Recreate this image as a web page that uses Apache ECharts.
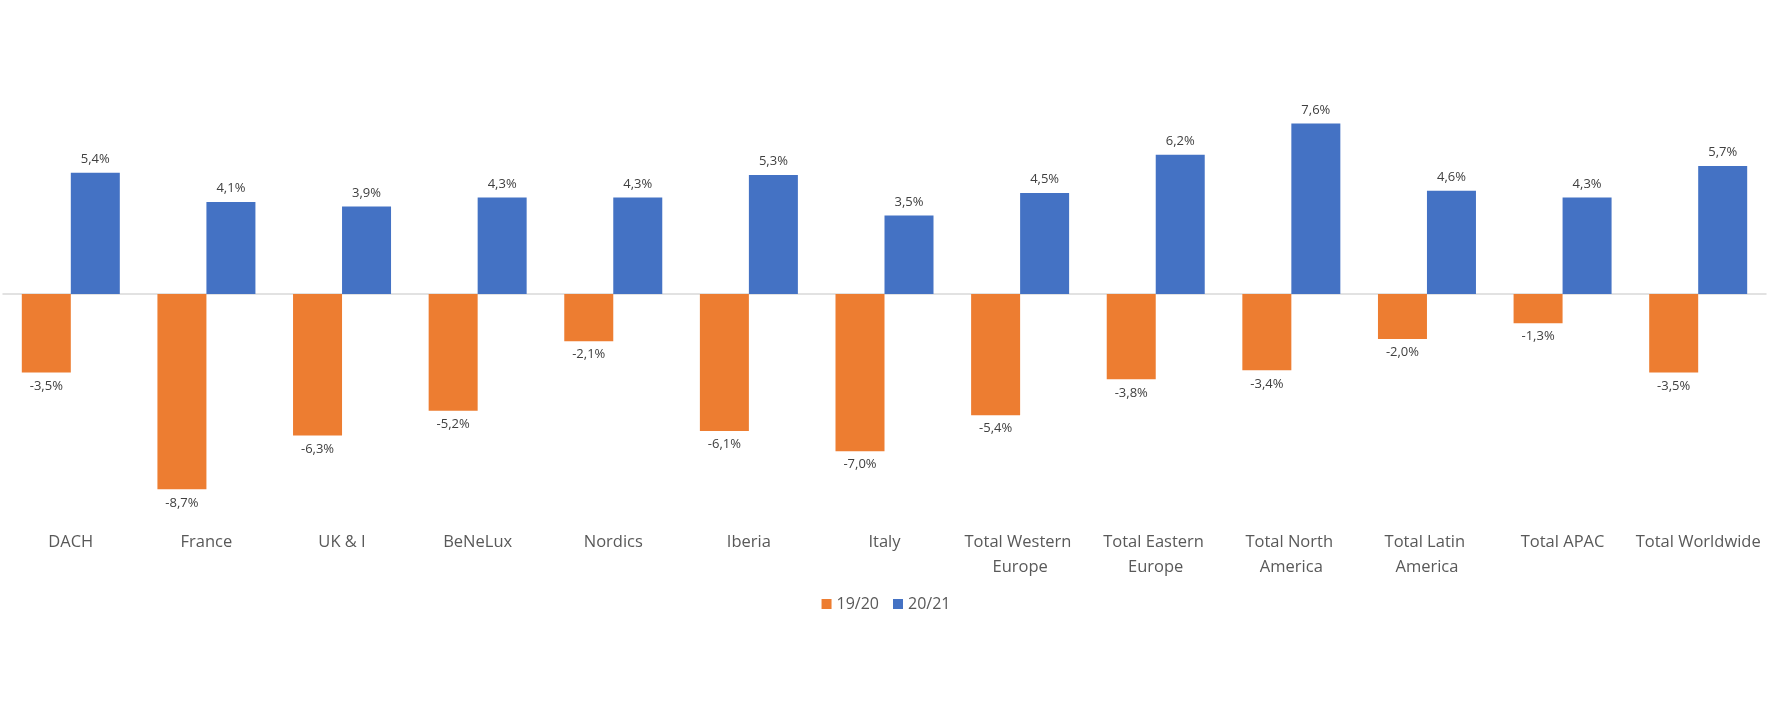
<!DOCTYPE html>
<html>
<head>
<meta charset="utf-8">
<script src="https://cdn.jsdelivr.net/npm/echarts@6/dist/echarts.min.js"></script>
<style>
html,body{margin:0;padding:0;background:#fff;}
#chart{width:1772px;height:709px;}
</style>
</head>
<body>
<div id="chart"></div>
<script>
const categories = ["DACH","France","UK & I","BeNeLux","Nordics","Iberia","Italy","Total Western Europe","Total Eastern Europe","Total North America","Total Latin America","Total APAC","Total Worldwide"];
const seriesNames = ["19/20","20/21"];
const values1920 = [-3.5,-8.7,-6.3,-5.2,-2.1,-6.1,-7.0,-5.4,-3.8,-3.4,-2.0,-1.3,-3.5];
const values2021 = [5.4,4.1,3.9,4.3,4.3,5.3,3.5,4.5,6.2,7.6,4.6,4.3,5.7];
const colors = ["#ED7D31","#4472C4"];

const fmt = p => p.value.toFixed(1).replace('.', ',') + '%';
const FONT = "Open Sans";

const chart = echarts.init(document.getElementById('chart'), null, {renderer:'canvas'});
chart.setOption({
  animation:false,
  backgroundColor:'#ffffff',
  textStyle:{fontFamily:FONT},
  grid:{left:-2, width:1768, top:69.5, height:449, containLabel:false},
  legend:{
    data:seriesNames, top:591, left:'center',
    itemWidth:10, itemHeight:10, itemGap:14,
    icon:'rect',
    textStyle:{color:'#595959', fontSize:16, fontFamily:FONT}
  },
  xAxis:[
    {type:'category', data:categories, axisLine:{onZero:true, lineStyle:{color:'#D9D9D9', width:1.5}},
     axisTick:{show:false}, axisLabel:{show:false}},
    {type:'category', data:categories, position:'bottom', axisLine:{show:false, onZero:false},
     axisTick:{show:false},
     axisLabel:{color:'#595959', fontSize:16.5, fontFamily:FONT, margin:11, lineHeight:25,
       width:136, overflow:'break', interval:0}}
  ],
  yAxis:{type:'value', min:-10, max:10, show:false, splitLine:{show:false}},
  series:[
    {name:seriesNames[0], type:'bar', data:values1920, xAxisIndex:0, barWidth:49, barGap:'0%',
     itemStyle:{color:colors[0]},
     label:{show:true, position:'bottom', distance:7, formatter:fmt, color:'#404040', fontSize:13, fontFamily:FONT}},
    {name:seriesNames[1], type:'bar', data:values2021, xAxisIndex:0, barWidth:49, barGap:'0%',
     itemStyle:{color:colors[1]},
     label:{show:true, position:'top', distance:7, formatter:fmt, color:'#404040', fontSize:13, fontFamily:FONT}}
  ]
});
</script>
</body>
</html>
